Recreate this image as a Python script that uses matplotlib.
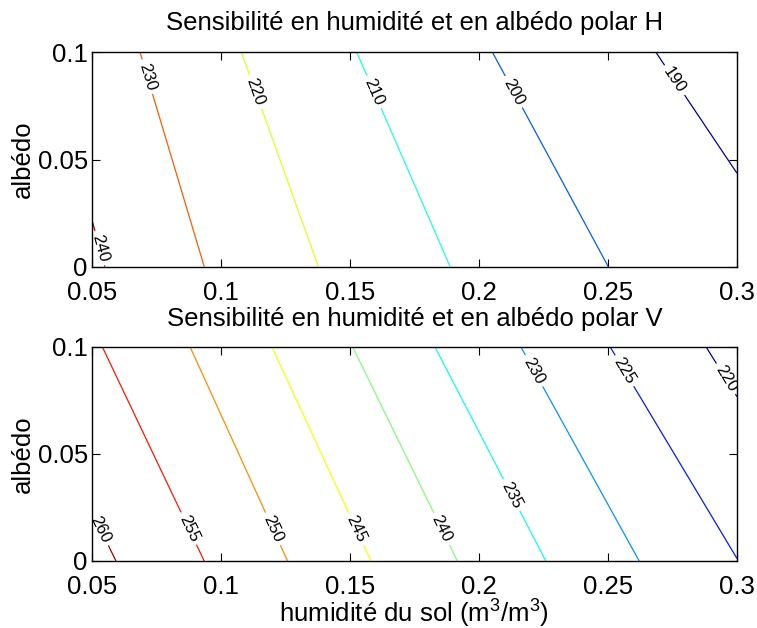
import numpy as np
import matplotlib
matplotlib.use("Agg")
import matplotlib.pyplot as plt
from matplotlib.colors import LinearSegmentedColormap

plt.rcParams['font.family'] = ['Liberation Sans', 'DejaVu Sans']
plt.rcParams['mathtext.fontset'] = 'custom'
plt.rcParams['mathtext.rm'] = 'Liberation Sans'
plt.rcParams['mathtext.it'] = 'Liberation Sans'

# ---- data ----
# Polar H: level, soil moisture where the contour meets albedo=0 and albedo=0.1
levels_h = [190, 200, 210, 220, 230, 240]
x_alb0_h = [0.3243, 0.2501, 0.1888, 0.1377, 0.0935, 0.0550]
x_alb1_h = [0.2686, 0.2052, 0.1526, 0.1079, 0.0686, 0.0320]
label_alb_h = [0.087, 0.0816, 0.0816, 0.0816, 0.0886, 0.0087]

# Polar V
levels_v = [220, 225, 230, 235, 240, 245, 250, 255, 260]
x_alb0_v = [0.3395, 0.3006, 0.2621, 0.2259, 0.1916, 0.1581, 0.1258, 0.0935, 0.0593]
x_alb1_v = [0.2880, 0.2508, 0.2162, 0.1829, 0.1510, 0.1197, 0.0880, 0.0540, 0.0187]
label_alb_v = [0.085, 0.0888, 0.0888, 0.0308, 0.015, 0.015, 0.015, 0.0152, 0.0148]

xticks = [0.05, 0.1, 0.15, 0.2, 0.25, 0.3]
xtick_labels = ['0.05', '0.1', '0.15', '0.2', '0.25', '0.3']
yticks = [0, 0.05, 0.1]
ytick_labels = ['0', '0.05', '0.1']

titles = ['Sensibilité en humidité et en albédo polar H',
          'Sensibilité en humidité et en albédo polar V']
xlabel = 'humidité du sol (m$^3$/m$^3$)'
ylabel = 'albédo'

# MATLAB-style jet colormap
mjet = LinearSegmentedColormap('mjet', {
    'red':   [(0, 0, 0), (0.375, 0, 0), (0.625, 1, 1), (0.875, 1, 1), (1, 0.5, 0.5)],
    'green': [(0, 0, 0), (0.125, 0, 0), (0.375, 1, 1), (0.625, 1, 1), (0.875, 0, 0), (1, 0, 0)],
    'blue':  [(0, 0.5, 0.5), (0.125, 1, 1), (0.375, 1, 1), (0.625, 0, 0), (1, 0, 0)],
})


def build_field(levels, xa0, xa1, xs, ys):
    lev = np.asarray(levels, float)
    xa0 = np.asarray(xa0, float)
    xa1 = np.asarray(xa1, float)
    Z = np.empty((len(ys), len(xs)))
    for i, y in enumerate(ys):
        xc = xa0 + (xa1 - xa0) * (y / 0.1)
        order = np.argsort(xc)
        xc, lv = xc[order], lev[order]
        z = np.interp(xs, xc, lv)
        sl = (lv[1] - lv[0]) / (xc[1] - xc[0])
        sr = (lv[-1] - lv[-2]) / (xc[-1] - xc[-2])
        m = xs < xc[0]
        z[m] = lv[0] + sl * (xs[m] - xc[0])
        m = xs > xc[-1]
        z[m] = lv[-1] + sr * (xs[m] - xc[-1])
        Z[i] = z
    return Z


fig = plt.figure(figsize=(7.57, 6.28), dpi=100)
ax_h = fig.add_axes([0.1215, 0.5753, 0.852, 0.3414])
ax_v = fig.add_axes([0.1215, 0.1067, 0.852, 0.3412])

xs = np.linspace(0.05, 0.3, 251)
ys = np.linspace(0.0, 0.1, 101)
X, Y = np.meshgrid(xs, ys)

panels = [
    (ax_h, levels_h, x_alb0_h, x_alb1_h, label_alb_h, 188.4, 241.6, 16.0),
    (ax_v, levels_v, x_alb0_v, x_alb1_v, label_alb_v, 218.3, 261.4, 15.0),
]

for k, (ax, lev, xa0, xa1, lab, vmin, vmax, tpad) in enumerate(panels):
    Z = build_field(lev, xa0, xa1, xs, ys)
    cs = ax.contour(X, Y, Z, levels=lev, cmap=mjet, vmin=vmin, vmax=vmax,
                    linewidths=0.9)
    pos = []
    for L, a, b, ya in zip(lev, xa0, xa1, lab):
        xl = a + (b - a) * ya / 0.1
        if xl < 0.05:
            xl = 0.0505
        pos.append((xl, ya))
    ax.clabel(cs, manual=pos, inline=True, fontsize=12, colors='k',
              fmt='%d', inline_spacing=4)
    ax.set_xlim(0.05, 0.3)
    ax.set_ylim(0, 0.1)
    ax.set_xticks(xticks)
    ax.set_xticklabels(xtick_labels)
    ax.set_yticks(yticks)
    ax.set_yticklabels(ytick_labels)
    ax.tick_params(direction='in', top=True, right=True, length=6, width=0.8,
                   labelsize=18.5)
    ax.tick_params(axis='x', pad=10)
    ax.tick_params(axis='y', pad=3)
    for s in ax.spines.values():
        s.set_linewidth(1.0)
    ax.set_title(titles[k], fontsize=18.5, pad=tpad)
    ax.set_ylabel(ylabel, fontsize=18.5, labelpad=2)

ax_v.set_xlabel(xlabel, fontsize=18.5, labelpad=-1)

fig.savefig('out.png', dpi=100)
